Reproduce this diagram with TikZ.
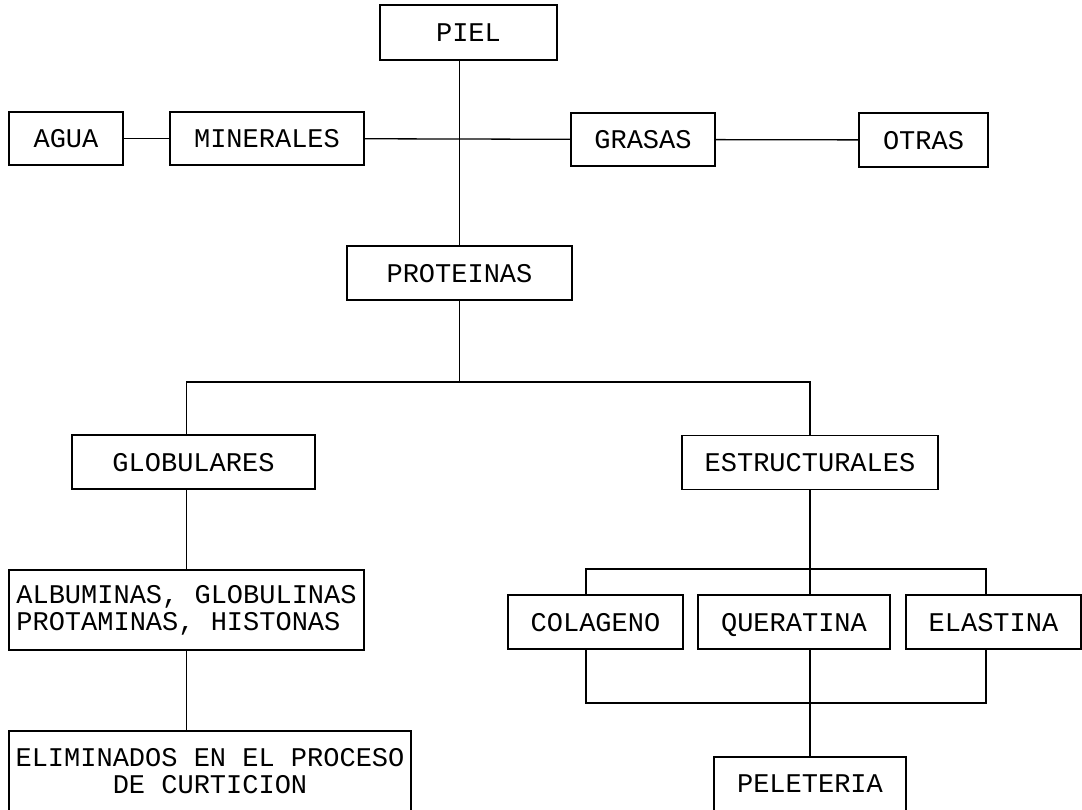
\documentclass[tikz,border=0pt]{standalone}
\usepackage{fontspec}
\setmainfont{Liberation Mono}
\begin{document}
\begin{tikzpicture}[x=1pt,y=-1pt,
  label font/.style={font=\fontsize{27}{27}\selectfont},
  outline/.style={draw, line width=1.3pt, rectangle, inner sep=0pt, outer sep=0pt},
  box/.style={outline, label font, text height=18pt, text depth=0pt},
  multibox/.style={outline, label font},
  frame/.style={outline, anchor=north},
  caption/.style={inner sep=0pt, label font},
  link/.style={line width=1.3pt}]
\clip (0,0) rectangle (1082,809);
\fill[white] (0,0) rectangle (1082,809);

% top level
\node[box, minimum width=177, minimum height=55] (piel) at (468.5,32.5) {PIEL};
\node[box, minimum width=114, minimum height=53] (agua) at (66,138.5) {AGUA};
\node[box, minimum width=194, minimum height=53] (min) at (267,138.5) {MINERALES};
\node[box, minimum width=144, minimum height=53] (gras) at (643,139.5) {GRASAS};
\node[box, minimum width=129, minimum height=54] (otras) at (923.5,140) {OTRAS};
\node[box, minimum width=225, minimum height=54] (prot) at (459.5,273) {PROTEINAS};

% protein groups
\node[box, minimum width=243, minimum height=54] (glob) at (193.5,462) {GLOBULARES};
\node[box, minimum width=256, minimum height=54] (est) at (810,462.5) {ESTRUCTURALES};
\node[multibox, minimum width=355, minimum height=80, align=left] (alb) at (186.5,610)
  {ALBUMINAS, GLOBULINAS\\PROTAMINAS, HISTONAS};
\node[box, minimum width=175, minimum height=54] (col) at (595.5,622) {COLAGENO};
\node[box, minimum width=192, minimum height=54] (quer) at (794,622) {QUERATINA};
\node[box, minimum width=175, minimum height=54] (ela) at (993.5,622) {ELASTINA};

% boxes running past the lower edge of the page
\node[frame, minimum width=402, minimum height=110] (elim) at (210,731) {};
\node[caption, align=center] (elimtxt) at (210,771) {ELIMINADOS EN EL PROCESO\\DE CURTICION};
\node[frame, minimum width=192, minimum height=90] (pel) at (810,757) {};
\node[caption, text height=18pt, text depth=0pt] (peltxt) at (810,783) {PELETERIA};

% junction points
\coordinate (jp) at (459.5,382);
\coordinate (jt) at (810,569);
\coordinate (cL) at (586,569);
\coordinate (cR) at (986,569);
\coordinate (bL) at (586,703);
\coordinate (bR) at (986,703);

% connectors
\draw[link] (agua) -- (min);
\draw[link] (min) -- (gras);
\draw[link] (gras) -- (otras);
\draw[link] (prot.north |- piel.south) -- (prot.north);
\draw[link] (prot.south) -- (jp);
\draw[link] (alb.north |- glob.north) -- (alb.north |- jp) -- (est.north |- jp) -- (est.north);
\draw[link] (alb.north |- glob.south) -- (alb.north);
\draw[link] (alb.south) -- (alb.south |- elim.north);
\draw[link] (est.south) -- (jt);
\draw[link] (cL |- col.north) -- (cL) -- (cR) -- (cR |- ela.north);
\draw[link] (jt) -- (jt |- quer.north);
\draw[link] (bL |- col.south) -- (bL) -- (bR) -- (bR |- ela.south);
\draw[link] (jt |- quer.south) -- (pel.north);
\end{tikzpicture}
\end{document}
